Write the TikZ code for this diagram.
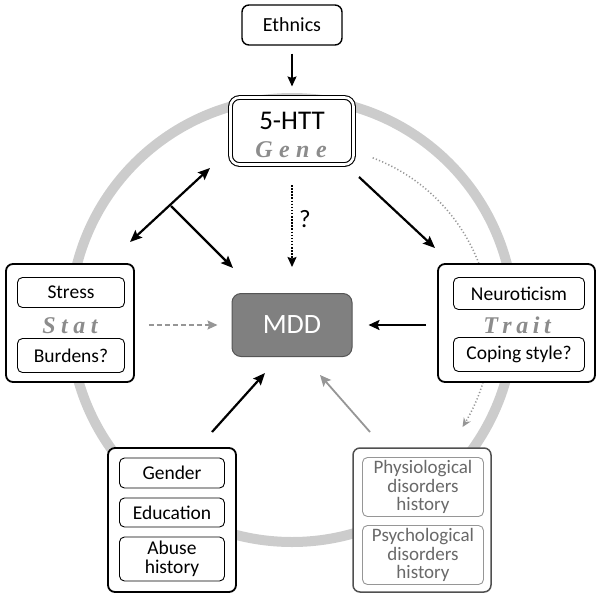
\documentclass[tikz,border=0pt]{standalone}
\usepackage{fontspec}
\setmainfont{Carlito}
\newfontfamily\tagserif{Liberation Serif}
\usetikzlibrary{arrows.meta}
\definecolor{ring}{RGB}{204,204,204}
\definecolor{mddfill}{RGB}{128,128,128}
\definecolor{mddline}{RGB}{85,85,85}
\definecolor{taggray}{RGB}{140,140,140}
\definecolor{softgray}{RGB}{150,150,150}
\definecolor{histline}{RGB}{80,80,80}
\definecolor{histtext}{RGB}{105,105,105}
\begin{document}
\begin{tikzpicture}[x=1pt,y=-1pt,
  outerbox/.style={draw, line width=1.8pt, rounded corners=7pt, fill=white, inner sep=0pt},
  innerbox/.style={draw, line width=0.9pt, rounded corners=5pt, fill=white, inner sep=0pt, align=center, font=\fontsize{19.5}{19}\selectfont},
  tagtext/.style={inner sep=0pt, anchor=base, text=taggray, font=\tagserif\bfseries\itshape\fontsize{24}{24}\selectfont},
  arr/.style={-{Stealth[length=12pt,width=10pt,inset=2pt]}, line width=2.2pt},
  dblarr/.style={{Stealth[length=12pt,width=10pt,inset=2pt]}-{Stealth[length=12pt,width=10pt,inset=2pt]}, line width=2.2pt},
]
\useasboundingbox (0,0) rectangle (600,598);
% ring
\draw[ring, line width=10pt] (292,320) circle[radius=222pt];
% dotted arc behind trait box
\draw[softgray, line width=1.5pt, dash pattern=on 1.2pt off 2.2pt, -{Stealth[length=9pt,width=8pt]}]
  plot[domain=-69.3:32.4, samples=80] ({308+183*cos(\x)},{329+183*sin(\x)});

% nodes
\node[outerbox, line width=1.4pt, minimum width=100pt, minimum height=40pt, font=\fontsize{20}{20}\selectfont] (eth) at (292,25) {Ethnics};

\node[draw, double, line width=1.1pt, double distance=2.6pt, rounded corners=9pt, fill=white, minimum width=123pt, minimum height=67pt] (gene) at (292,131) {};
\node[inner sep=0pt, anchor=base, font=\fontsize{27}{27}\selectfont] (htt) at (292,129) {5-HTT};
\node[tagtext] (genetag) at (291,157) {G\kern6.5pt e\kern6.5pt n\kern6.5pt e};

\node[draw=mddline, fill=mddfill, line width=1pt, rounded corners=9pt, minimum width=120pt, minimum height=63pt, text=white, font=\fontsize{28}{28}\selectfont] (mdd) at (292,325) {MDD};

\node[outerbox, minimum width=128pt, minimum height=118pt] (stat) at (70,323) {};
\node[innerbox, minimum width=107pt, minimum height=30pt] (stress) at (71,292.5) {Stress};
\node[innerbox, minimum width=107pt, minimum height=34pt] (burd) at (71,355.5) {Burdens?};
\node[tagtext] (stattag) at (70,333) {S\kern5.5pt t\kern5.5pt a\kern5.5pt t};

\node[outerbox, minimum width=157pt, minimum height=118pt] (trait) at (516.5,323) {};
\node[innerbox, minimum width=131pt, minimum height=32pt] (neuro) at (519,293.5) {Neuroticism};
\node[innerbox, minimum width=131pt, minimum height=34pt] (cope) at (519,354.5) {Coping style?};
\node[tagtext] (traittag) at (517,333) {T\kern4.5pt r\kern4.5pt a\kern4.5pt i\kern4.5pt t};

\node[outerbox, minimum width=128pt, minimum height=144pt] (demo) at (172,520) {};
\node[innerbox, minimum width=105pt, minimum height=30pt] (gender) at (172,473) {Gender};
\node[innerbox, minimum width=105pt, minimum height=29pt] (edu) at (172,512.5) {Education};
\node[innerbox, minimum width=105pt, minimum height=44pt] (abuse) at (172,559) {Abuse\\history};

\node[outerbox, draw=histline, line width=1.5pt, minimum width=138pt, minimum height=144pt] (hist) at (422,520) {};
\node[innerbox, draw=softgray, text=histtext, minimum width=121pt, minimum height=59pt, font=\fontsize{19}{18.5}\selectfont] (physio) at (423,487) {Physiological\\disorders\\history};
\node[innerbox, draw=softgray, text=histtext, minimum width=121pt, minimum height=59pt, font=\fontsize{19}{18.5}\selectfont] (psycho) at (423,555) {Psychological\\disorders\\history};

\node[inner sep=0pt, font=\fontsize{25}{25}\selectfont] (q) at (305,219) {?};

% connector endpoints
\coordinate (dA) at (130,242);
\coordinate (dB) at (210,168);
\coordinate (dM) at (171,206);
\coordinate (dT) at (233,268);
\coordinate (gtS) at (359,177);
\coordinate (gtE) at (435,248);
\coordinate (blS) at (212,432);
\coordinate (blE) at (265,373);
\coordinate (brS) at (370,432);
\coordinate (brE) at (320,375);

% connectors
\draw[-{Stealth[length=10pt,width=9pt,inset=1.5pt]}, line width=1.4pt, shorten <=8pt, shorten >=10.5pt] (eth) -- (gene);
\draw[dblarr] (dA) -- (dB);
\draw[arr] (dM) -- (dT);
\draw[arr] (gtS) -- (gtE);
\draw[line width=1.5pt, dash pattern=on 1.5pt off 1.6pt, -{Stealth[length=10pt,width=9pt,inset=1.5pt]}, shorten <=20pt, shorten >=26pt] (gene) -- (mdd);
\draw[softgray, line width=1.5pt, dash pattern=on 5pt off 3pt, -{Stealth[length=10pt,width=9pt,inset=1.5pt]}, shorten <=14pt, shorten >=14pt] (stat.east |- mdd) -- (mdd);
\draw[line width=2pt, -{Stealth[length=11pt,width=10pt,inset=2pt]}, shorten <=11pt, shorten >=16pt] (trait.west |- mdd) -- (mdd);
\draw[arr] (blS) -- (blE);
\draw[softgray, line width=1.8pt, -{Stealth[length=11pt,width=10pt,inset=2pt]}] (brS) -- (brE);
\end{tikzpicture}
\end{document}
